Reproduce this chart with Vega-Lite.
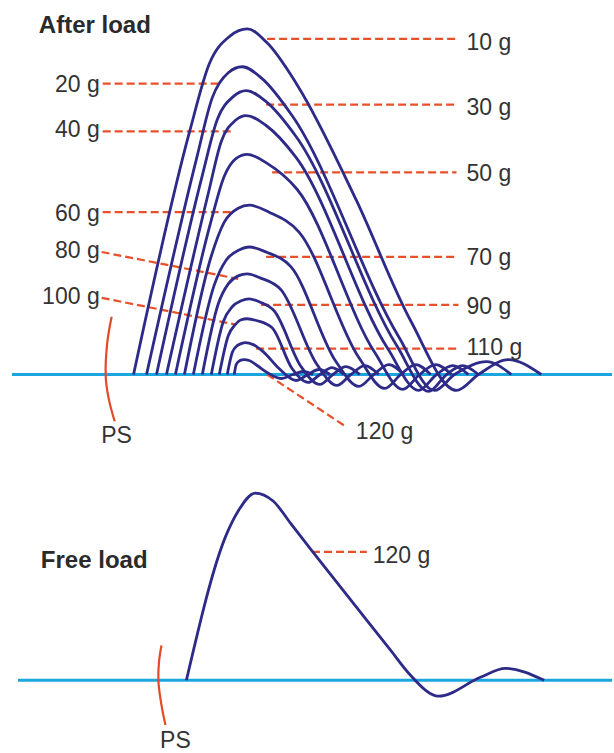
{
  "$schema": "https://vega.github.io/schema/vega-lite/v6.json",
  "width": 614,
  "height": 753,
  "autosize": {"type": "fit", "contains": "padding"},
  "padding": 0,
  "background": "white",
  "config": {"view": {"stroke": null}},
  "datasets": {
    "base": [
      {"x": 12, "x2": 614, "y": 376},
      {"x": 18, "x2": 614, "y": 683}
    ],
    "curves": [
      {"c": "10", "x": 134, "y": 376}, {"c": "10", "x": 190, "y": 133}, {"c": "10", "x": 210, "y": 64}, {"c": "10", "x": 231, "y": 36}, {"c": "10", "x": 248, "y": 29}, {"c": "10", "x": 268, "y": 43}, {"c": "10", "x": 298, "y": 85}, {"c": "10", "x": 357, "y": 200}, {"c": "10", "x": 412, "y": 322}, {"c": "10", "x": 458, "y": 392}, {"c": "10", "x": 480, "y": 376}, {"c": "10", "x": 510, "y": 361}, {"c": "10", "x": 543, "y": 376},
      {"c": "20", "x": 147, "y": 376}, {"c": "20", "x": 197, "y": 160}, {"c": "20", "x": 213, "y": 98}, {"c": "20", "x": 229, "y": 73}, {"c": "20", "x": 243, "y": 67}, {"c": "20", "x": 263, "y": 79}, {"c": "20", "x": 293, "y": 116}, {"c": "20", "x": 400, "y": 338}, {"c": "20", "x": 436, "y": 392}, {"c": "20", "x": 456, "y": 376}, {"c": "20", "x": 488, "y": 363}, {"c": "20", "x": 513, "y": 376},
      {"c": "30", "x": 157, "y": 376}, {"c": "30", "x": 203, "y": 176}, {"c": "30", "x": 218, "y": 120}, {"c": "30", "x": 234, "y": 97}, {"c": "30", "x": 247, "y": 91}, {"c": "30", "x": 267, "y": 102}, {"c": "30", "x": 297, "y": 137}, {"c": "30", "x": 398, "y": 347}, {"c": "30", "x": 430, "y": 393}, {"c": "30", "x": 448, "y": 376}, {"c": "30", "x": 464, "y": 367}, {"c": "30", "x": 480, "y": 376},
      {"c": "40", "x": 167, "y": 376}, {"c": "40", "x": 209, "y": 194}, {"c": "40", "x": 222, "y": 142}, {"c": "40", "x": 236, "y": 121}, {"c": "40", "x": 247, "y": 116}, {"c": "40", "x": 267, "y": 126}, {"c": "40", "x": 297, "y": 158}, {"c": "40", "x": 389, "y": 350}, {"c": "40", "x": 420, "y": 392}, {"c": "40", "x": 438, "y": 376}, {"c": "40", "x": 454, "y": 367}, {"c": "40", "x": 470, "y": 376},
      {"c": "50", "x": 176, "y": 376}, {"c": "50", "x": 212, "y": 221}, {"c": "50", "x": 225, "y": 177}, {"c": "50", "x": 237, "y": 159}, {"c": "50", "x": 248, "y": 155}, {"c": "50", "x": 268, "y": 164}, {"c": "50", "x": 298, "y": 190}, {"c": "50", "x": 376, "y": 354}, {"c": "50", "x": 404, "y": 391}, {"c": "50", "x": 421, "y": 376}, {"c": "50", "x": 437, "y": 366}, {"c": "50", "x": 453, "y": 376},
      {"c": "60", "x": 185, "y": 376}, {"c": "60", "x": 212, "y": 257}, {"c": "60", "x": 225, "y": 223}, {"c": "60", "x": 239, "y": 209}, {"c": "60", "x": 250, "y": 206}, {"c": "60", "x": 270, "y": 213}, {"c": "60", "x": 300, "y": 233}, {"c": "60", "x": 360, "y": 359}, {"c": "60", "x": 386, "y": 390}, {"c": "60", "x": 402, "y": 376}, {"c": "60", "x": 417, "y": 366}, {"c": "60", "x": 432, "y": 376},
      {"c": "70", "x": 194, "y": 376}, {"c": "70", "x": 215, "y": 286}, {"c": "70", "x": 227, "y": 261}, {"c": "70", "x": 240, "y": 251}, {"c": "70", "x": 250, "y": 248}, {"c": "70", "x": 267, "y": 253}, {"c": "70", "x": 292, "y": 268}, {"c": "70", "x": 337, "y": 363}, {"c": "70", "x": 360, "y": 388}, {"c": "70", "x": 375, "y": 376}, {"c": "70", "x": 390, "y": 366}, {"c": "70", "x": 405, "y": 376},
      {"c": "80", "x": 203, "y": 376}, {"c": "80", "x": 219, "y": 305}, {"c": "80", "x": 229, "y": 285}, {"c": "80", "x": 239, "y": 277}, {"c": "80", "x": 248, "y": 275}, {"c": "80", "x": 261, "y": 279}, {"c": "80", "x": 282, "y": 291}, {"c": "80", "x": 318, "y": 366}, {"c": "80", "x": 338, "y": 387}, {"c": "80", "x": 352, "y": 376}, {"c": "80", "x": 366, "y": 367}, {"c": "80", "x": 380, "y": 376},
      {"c": "90", "x": 212, "y": 376}, {"c": "90", "x": 224, "y": 323}, {"c": "90", "x": 233, "y": 308}, {"c": "90", "x": 242, "y": 302}, {"c": "90", "x": 250, "y": 300}, {"c": "90", "x": 260, "y": 303}, {"c": "90", "x": 275, "y": 312}, {"c": "90", "x": 302, "y": 368}, {"c": "90", "x": 321, "y": 386}, {"c": "90", "x": 334, "y": 376}, {"c": "90", "x": 347, "y": 368}, {"c": "90", "x": 361, "y": 376},
      {"c": "100", "x": 220, "y": 376}, {"c": "100", "x": 229, "y": 337}, {"c": "100", "x": 236, "y": 326}, {"c": "100", "x": 242, "y": 321}, {"c": "100", "x": 248, "y": 320}, {"c": "100", "x": 258, "y": 322}, {"c": "100", "x": 273, "y": 329}, {"c": "100", "x": 293, "y": 370}, {"c": "100", "x": 309, "y": 384}, {"c": "100", "x": 321, "y": 376}, {"c": "100", "x": 333, "y": 369}, {"c": "100", "x": 345, "y": 376},
      {"c": "110", "x": 228, "y": 376}, {"c": "110", "x": 233, "y": 354}, {"c": "110", "x": 238, "y": 347}, {"c": "110", "x": 242, "y": 345}, {"c": "110", "x": 246, "y": 344}, {"c": "110", "x": 254, "y": 346}, {"c": "110", "x": 264, "y": 353}, {"c": "110", "x": 280, "y": 370}, {"c": "110", "x": 297, "y": 382}, {"c": "110", "x": 309, "y": 376}, {"c": "110", "x": 320, "y": 371}, {"c": "110", "x": 331, "y": 376},
      {"c": "120", "x": 235, "y": 376}, {"c": "120", "x": 237, "y": 366}, {"c": "120", "x": 240, "y": 362.5}, {"c": "120", "x": 243, "y": 361.3}, {"c": "120", "x": 245, "y": 361}, {"c": "120", "x": 250, "y": 362}, {"c": "120", "x": 258, "y": 367}, {"c": "120", "x": 268, "y": 374}, {"c": "120", "x": 282, "y": 380}, {"c": "120", "x": 294, "y": 376}, {"c": "120", "x": 304, "y": 373}, {"c": "120", "x": 314, "y": 376},
      {"c": "free", "x": 187, "y": 683}, {"c": "free", "x": 227, "y": 537}, {"c": "free", "x": 239, "y": 513}, {"c": "free", "x": 256, "y": 495}, {"c": "free", "x": 274, "y": 503}, {"c": "free", "x": 292, "y": 526}, {"c": "free", "x": 313, "y": 553}, {"c": "free", "x": 392, "y": 653}, {"c": "free", "x": 411, "y": 677}, {"c": "free", "x": 440, "y": 699}, {"c": "free", "x": 482, "y": 680}, {"c": "free", "x": 507, "y": 671}, {"c": "free", "x": 546, "y": 683}
    ],
    "leaders": [
      {"x": 268, "y": 39, "x2": 458, "y2": 39},
      {"x": 103, "y": 84, "x2": 220, "y2": 84},
      {"x": 267, "y": 105, "x2": 458, "y2": 105},
      {"x": 103, "y": 132, "x2": 232, "y2": 132},
      {"x": 273, "y": 173, "x2": 458, "y2": 173},
      {"x": 103, "y": 213, "x2": 235, "y2": 213},
      {"x": 267, "y": 258, "x2": 458, "y2": 258},
      {"x": 102, "y": 253, "x2": 239, "y2": 280},
      {"x": 262, "y": 306, "x2": 460, "y2": 306},
      {"x": 102, "y": 299, "x2": 237, "y2": 326},
      {"x": 257, "y": 350, "x2": 459, "y2": 350},
      {"x": 268, "y": 376, "x2": 348, "y2": 429},
      {"x": 313, "y": 554, "x2": 368, "y2": 554}
    ],
    "arcs": [
      {"a": "top", "o": 1, "x": 112, "y": 318}, {"a": "top", "o": 2, "x": 107.5, "y": 345}, {"a": "top", "o": 3, "x": 106, "y": 377}, {"a": "top", "o": 4, "x": 109, "y": 400}, {"a": "top", "o": 5, "x": 115, "y": 423},
      {"a": "bottom", "o": 1, "x": 162, "y": 648}, {"a": "bottom", "o": 2, "x": 159.5, "y": 665}, {"a": "bottom", "o": 3, "x": 159, "y": 685}, {"a": "bottom", "o": 4, "x": 162, "y": 708}, {"a": "bottom", "o": 5, "x": 166, "y": 728}
    ],
    "labelsR": [
      {"x": 468, "y": 50, "t": "10 g"},
      {"x": 468, "y": 115, "t": "30 g"},
      {"x": 468, "y": 182, "t": "50 g"},
      {"x": 468, "y": 266, "t": "70 g"},
      {"x": 468, "y": 315, "t": "90 g"},
      {"x": 468, "y": 356, "t": "110 g"},
      {"x": 357, "y": 441, "t": "120 g"},
      {"x": 374, "y": 565, "t": "120 g"}
    ],
    "labelsL": [
      {"x": 100, "y": 92, "t": "20 g"},
      {"x": 100, "y": 138, "t": "40 g"},
      {"x": 100, "y": 222, "t": "60 g"},
      {"x": 100, "y": 259, "t": "80 g"},
      {"x": 100, "y": 305, "t": "100 g"}
    ],
    "titles": [
      {"x": 39, "y": 33, "t": "After load"},
      {"x": 41, "y": 570, "t": "Free load"}
    ],
    "ps": [
      {"x": 117, "y": 445, "t": "PS"},
      {"x": 176, "y": 751, "t": "PS"}
    ]
  },
  "layer": [
    {
      "data": {"name": "base"},
      "mark": {"type": "rule", "color": "#1ba6df", "strokeWidth": 3},
      "encoding": {
        "x": {"field": "x", "type": "quantitative", "scale": {"domain": [0, 614], "nice": false, "zero": false}, "axis": null},
        "x2": {"field": "x2"},
        "y": {"field": "y", "type": "quantitative", "scale": {"domain": [0, 753], "nice": false, "zero": false, "reverse": true}, "axis": null}
      }
    },
    {
      "data": {"name": "leaders"},
      "mark": {"type": "rule", "color": "#e8502a", "strokeWidth": 2.2, "strokeDash": [8, 4]},
      "encoding": {
        "x": {"field": "x", "type": "quantitative", "axis": null},
        "x2": {"field": "x2"},
        "y": {"field": "y", "type": "quantitative", "axis": null},
        "y2": {"field": "y2"}
      }
    },
    {
      "data": {"name": "curves"},
      "mark": {"type": "line", "interpolate": "monotone", "color": "#2d2a88", "strokeWidth": 2.8},
      "encoding": {
        "x": {"field": "x", "type": "quantitative", "axis": null},
        "y": {"field": "y", "type": "quantitative", "axis": null},
        "detail": {"field": "c", "type": "nominal"}
      }
    },
    {
      "data": {"name": "arcs"},
      "mark": {"type": "line", "interpolate": "cardinal", "color": "#e24a2a", "strokeWidth": 2.2},
      "encoding": {
        "x": {"field": "x", "type": "quantitative", "axis": null},
        "y": {"field": "y", "type": "quantitative", "axis": null},
        "detail": {"field": "a", "type": "nominal"},
        "order": {"field": "o", "type": "quantitative"}
      }
    },
    {
      "data": {"name": "labelsR"},
      "mark": {"type": "text", "align": "left", "baseline": "alphabetic", "font": "Liberation Sans", "fontSize": 23, "color": "#333333"},
      "encoding": {
        "x": {"field": "x", "type": "quantitative", "axis": null},
        "y": {"field": "y", "type": "quantitative", "axis": null},
        "text": {"field": "t"}
      }
    },
    {
      "data": {"name": "labelsL"},
      "mark": {"type": "text", "align": "right", "baseline": "alphabetic", "font": "Liberation Sans", "fontSize": 23, "color": "#333333"},
      "encoding": {
        "x": {"field": "x", "type": "quantitative", "axis": null},
        "y": {"field": "y", "type": "quantitative", "axis": null},
        "text": {"field": "t"}
      }
    },
    {
      "data": {"name": "titles"},
      "mark": {"type": "text", "align": "left", "baseline": "alphabetic", "font": "Liberation Sans", "fontSize": 24, "fontWeight": "bold", "color": "#2a2a2a"},
      "encoding": {
        "x": {"field": "x", "type": "quantitative", "axis": null},
        "y": {"field": "y", "type": "quantitative", "axis": null},
        "text": {"field": "t"}
      }
    },
    {
      "data": {"name": "ps"},
      "mark": {"type": "text", "align": "center", "baseline": "alphabetic", "font": "Liberation Sans", "fontSize": 23, "color": "#333333"},
      "encoding": {
        "x": {"field": "x", "type": "quantitative", "axis": null},
        "y": {"field": "y", "type": "quantitative", "axis": null},
        "text": {"field": "t"}
      }
    }
  ]
}
